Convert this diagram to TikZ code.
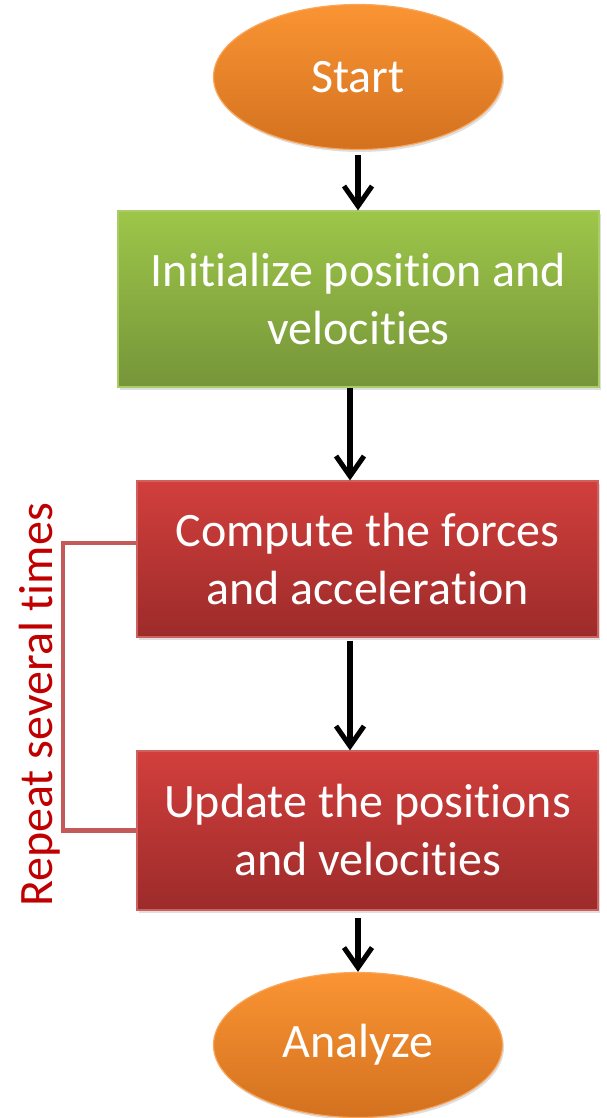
\documentclass[tikz,border=0pt]{standalone}
\usepackage{fontspec}
\setmainfont{Carlito}[Ligatures=NoCommon]
\usetikzlibrary{shapes.geometric,arrows.meta,shadows}
\newcommand\myti{t\kern0pt i}
\definecolor{orTop}{HTML}{FA9433}
\definecolor{orBot}{HTML}{D3711F}
\definecolor{orBorder}{HTML}{F9A55A}
\definecolor{grTop}{HTML}{9DC649}
\definecolor{grBot}{HTML}{769539}
\definecolor{grBorder}{HTML}{A9CC66}
\definecolor{rdTop}{HTML}{D23F3C}
\definecolor{rdBot}{HTML}{9C2B2A}
\definecolor{rdBorder}{HTML}{D0605D}
\definecolor{loopcol}{HTML}{C4595A}
\definecolor{repcol}{HTML}{C00000}
\tikzset{
  x=1pt, y=-1pt,
  lbl/.style={text=white, font=\fontsize{48}{58}\selectfont, align=center, inner sep=0pt},
  terminal/.style={lbl, ellipse, minimum width=289pt, minimum height=145pt,
    top color=orTop, bottom color=orBot, draw=orBorder, line width=1.2pt,
    drop shadow={opacity=0.25, shadow xshift=1.5pt, shadow yshift=-2.5pt}},
  greenbox/.style={lbl, rectangle, top color=grTop, bottom color=grBot, draw=grBorder, line width=1.2pt,
    drop shadow={opacity=0.25, shadow xshift=1.5pt, shadow yshift=-2.5pt}},
  redbox/.style={lbl, rectangle, top color=rdTop, bottom color=rdBot, draw=rdBorder, line width=1.2pt,
    drop shadow={opacity=0.25, shadow xshift=1.5pt, shadow yshift=-2.5pt}},
  flow/.style={line width=5.5pt, -{Straight Barb[length=20pt, width=28pt, line width=5pt]}},
  loopline/.style={draw=loopcol, line width=4.5pt, line join=miter},
}
\begin{document}
\begin{tikzpicture}
\path[use as bounding box, fill=white] (0,0) rectangle (606,1118);

\node[terminal] (start) at (358,77) {Start};
\node[greenbox, minimum width=481pt, minimum height=176pt] (init) at (358.5,299) {Ini\myti alize posi\myti on and\\veloci\myti es};
\node[redbox, minimum width=461pt, minimum height=156pt] (comp) at (367.5,559) {Compute the forces\\and accelera\myti on};
\node[redbox, minimum width=461pt, minimum height=159pt] (upd) at (367.5,830.5) {Update the posi\myti ons\\and veloci\myti es};
\node[terminal] (anal) at (358,1045) {Analyze};

\coordinate (xa) at (358,0);
\coordinate (xb) at (350,0);
\coordinate (bx) at (63,0);

\draw[flow, shorten <=5pt] (start.south -| xa) -- (init.north -| xa);
\draw[flow] (init.south -| xb) -- (comp.north -| xb);
\draw[flow, shorten <=3pt] (comp.south -| xb) -- (upd.north -| xb);
\draw[flow, shorten <=7pt] (upd.south -| xa) -- (anal.north -| xa);

\draw[loopline] ([yshift=16pt]comp.west) -- ([yshift=16pt]comp.west -| bx) -- (upd.west -| bx) -- (upd.west);

\node[rotate=90, text=repcol, font=\fontsize{48}{58}\selectfont, inner sep=0pt] (rep) at (40,705) {Repeat several \myti mes};
\end{tikzpicture}
\end{document}
